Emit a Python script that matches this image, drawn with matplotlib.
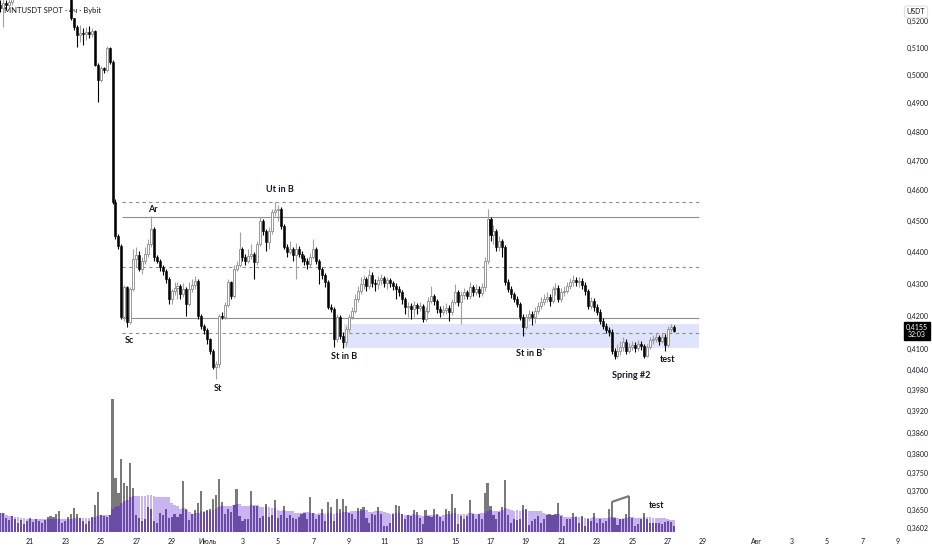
import numpy as np
import pandas as pd
import matplotlib
matplotlib.use("Agg")
import matplotlib.pyplot as plt
import matplotlib.dates as mdates
from matplotlib.ticker import FixedLocator, FixedFormatter, NullLocator
from matplotlib.transforms import blended_transform_factory

plt.rcParams['font.family'] = ['Lato', 'DejaVu Sans']

# ---------------- data ----------------
start_time = "2025-06-19 08:00"   # 4h candles
open0 = 0.5261
closes = [
    0.5250, 0.5269, 0.5261, 0.5273, 0.5299, 0.5350, 0.5380, 0.5410, 0.5450, 0.5430,
    0.5460, 0.5490, 0.5470, 0.5440, 0.5460, 0.5480, 0.5450, 0.5420, 0.5430, 0.5400,
    0.5380, 0.5390, 0.5360, 0.5340, 0.5211, 0.5178, 0.5147, 0.5155, 0.5151, 0.5159,
    0.5151, 0.5162, 0.5037, 0.4983, 0.5026, 0.5019, 0.5100, 0.5048, 0.4560, 0.4449,
    0.4418, 0.4197, 0.4289, 0.4182, 0.4283, 0.4377, 0.4389, 0.4345, 0.4370, 0.4392,
    0.4424, 0.4472, 0.4383, 0.4370, 0.4351, 0.4339, 0.4314, 0.4252, 0.4277, 0.4286,
    0.4292, 0.4268, 0.4283, 0.4237, 0.4283, 0.4295, 0.4308, 0.4200, 0.4170, 0.4158,
    0.4131, 0.4095, 0.4049, 0.4057, 0.4200, 0.4197, 0.4234, 0.4305, 0.4262, 0.4345,
    0.4358, 0.4408, 0.4383, 0.4370, 0.4386, 0.4392, 0.4367, 0.4424, 0.4498, 0.4466,
    0.4431, 0.4466, 0.4527, 0.4534, 0.4537, 0.4482, 0.4415, 0.4399, 0.4408, 0.4389,
    0.4408, 0.4392, 0.4380, 0.4370, 0.4361, 0.4383, 0.4408, 0.4370, 0.4345, 0.4326,
    0.4305, 0.4228, 0.4222, 0.4131, 0.4197, 0.4140, 0.4122, 0.4161, 0.4197, 0.4216,
    0.4252, 0.4277, 0.4298, 0.4314, 0.4292, 0.4326, 0.4302, 0.4298, 0.4311, 0.4317,
    0.4302, 0.4311, 0.4302, 0.4292, 0.4283, 0.4274, 0.4252, 0.4228, 0.4231, 0.4222,
    0.4234, 0.4225, 0.4231, 0.4191, 0.4216, 0.4246, 0.4262, 0.4246, 0.4222, 0.4213,
    0.4219, 0.4225, 0.4213, 0.4243, 0.4274, 0.4243, 0.4265, 0.4274, 0.4262, 0.4289,
    0.4274, 0.4283, 0.4271, 0.4289, 0.4370, 0.4505, 0.4453, 0.4466, 0.4415, 0.4434,
    0.4415, 0.4305, 0.4283, 0.4268, 0.4252, 0.4237, 0.4197, 0.4167, 0.4197, 0.4206,
    0.4197, 0.4216, 0.4231, 0.4243, 0.4252, 0.4258, 0.4246, 0.4283, 0.4286, 0.4252,
    0.4274, 0.4277, 0.4292, 0.4305, 0.4311, 0.4305, 0.4308, 0.4295, 0.4277, 0.4231,
    0.4246, 0.4228, 0.4213, 0.4185, 0.4170, 0.4158, 0.4152, 0.4095, 0.4081, 0.4095,
    0.4107, 0.4122, 0.4095, 0.4107, 0.4113, 0.4104, 0.4116, 0.4110, 0.4081, 0.4107,
    0.4128, 0.4131, 0.4137, 0.4125, 0.4137, 0.4113, 0.4161, 0.4167, 0.4155,
]
highs = [
    0.5280, 0.5288, 0.5280, 0.5291, 0.5318, 0.5370, 0.5395, 0.5425, 0.5470, 0.5465,
    0.5478, 0.5510, 0.5500, 0.5475, 0.5478, 0.5495, 0.5490, 0.5462, 0.5445, 0.5440,
    0.5405, 0.5400, 0.5398, 0.5370, 0.5345, 0.5211, 0.5185, 0.5185, 0.5174, 0.5178,
    0.5181, 0.5174, 0.5166, 0.5044, 0.5033, 0.5030, 0.5107, 0.5103, 0.5055, 0.4570,
    0.4456, 0.4424, 0.4295, 0.4292, 0.4289, 0.4408, 0.4415, 0.4402, 0.4383, 0.4415,
    0.4440, 0.4514, 0.4479, 0.4389, 0.4377, 0.4358, 0.4345, 0.4320, 0.4283, 0.4305,
    0.4305, 0.4298, 0.4302, 0.4289, 0.4305, 0.4314, 0.4323, 0.4314, 0.4206, 0.4176,
    0.4164, 0.4134, 0.4101, 0.4066, 0.4206, 0.4213, 0.4243, 0.4314, 0.4308, 0.4358,
    0.4370, 0.4463, 0.4415, 0.4392, 0.4408, 0.4424, 0.4399, 0.4434, 0.4511, 0.4505,
    0.4472, 0.4479, 0.4537, 0.4563, 0.4550, 0.4544, 0.4489, 0.4424, 0.4434, 0.4415,
    0.4427, 0.4418, 0.4402, 0.4389, 0.4380, 0.4395, 0.4440, 0.4415, 0.4377, 0.4351,
    0.4333, 0.4311, 0.4237, 0.4228, 0.4206, 0.4203, 0.4152, 0.4170, 0.4206, 0.4228,
    0.4268, 0.4292, 0.4320, 0.4326, 0.4320, 0.4345, 0.4336, 0.4314, 0.4323, 0.4329,
    0.4323, 0.4320, 0.4317, 0.4308, 0.4302, 0.4292, 0.4280, 0.4258, 0.4243, 0.4240,
    0.4246, 0.4240, 0.4243, 0.4237, 0.4228, 0.4258, 0.4292, 0.4268, 0.4252, 0.4231,
    0.4234, 0.4240, 0.4234, 0.4252, 0.4298, 0.4280, 0.4277, 0.4286, 0.4280, 0.4305,
    0.4295, 0.4298, 0.4292, 0.4302, 0.4383, 0.4537, 0.4511, 0.4485, 0.4472, 0.4449,
    0.4440, 0.4421, 0.4314, 0.4292, 0.4274, 0.4262, 0.4243, 0.4206, 0.4206, 0.4219,
    0.4216, 0.4228, 0.4243, 0.4258, 0.4268, 0.4274, 0.4268, 0.4292, 0.4302, 0.4295,
    0.4286, 0.4292, 0.4305, 0.4317, 0.4326, 0.4320, 0.4320, 0.4317, 0.4305, 0.4283,
    0.4258, 0.4255, 0.4237, 0.4222, 0.4194, 0.4179, 0.4167, 0.4161, 0.4104, 0.4116,
    0.4125, 0.4137, 0.4131, 0.4119, 0.4125, 0.4122, 0.4128, 0.4125, 0.4116, 0.4116,
    0.4137, 0.4143, 0.4149, 0.4143, 0.4149, 0.4146, 0.4170, 0.4176, 0.4173,
]
lows = [
    0.5235, 0.5178, 0.5242, 0.5250, 0.5261, 0.5290, 0.5330, 0.5360, 0.5390, 0.5410,
    0.5415, 0.5445, 0.5450, 0.5420, 0.5425, 0.5440, 0.5430, 0.5400, 0.5405, 0.5385,
    0.5362, 0.5365, 0.5342, 0.5322, 0.5204, 0.5166, 0.5103, 0.5122, 0.5111, 0.5129,
    0.5136, 0.5140, 0.5033, 0.4904, 0.4976, 0.5008, 0.5012, 0.5041, 0.4554, 0.4440,
    0.4408, 0.4191, 0.4185, 0.4167, 0.4176, 0.4277, 0.4351, 0.4339, 0.4329, 0.4361,
    0.4383, 0.4415, 0.4370, 0.4364, 0.4339, 0.4326, 0.4302, 0.4237, 0.4237, 0.4265,
    0.4252, 0.4252, 0.4258, 0.4200, 0.4231, 0.4274, 0.4283, 0.4191, 0.4161, 0.4146,
    0.4116, 0.4087, 0.4043, 0.4014, 0.4046, 0.4191, 0.4191, 0.4228, 0.4252, 0.4255,
    0.4339, 0.4351, 0.4370, 0.4358, 0.4364, 0.4377, 0.4314, 0.4358, 0.4418, 0.4453,
    0.4402, 0.4408, 0.4456, 0.4514, 0.4498, 0.4472, 0.4408, 0.4383, 0.4392, 0.4370,
    0.4314, 0.4383, 0.4367, 0.4358, 0.4345, 0.4351, 0.4377, 0.4361, 0.4298, 0.4314,
    0.4289, 0.4222, 0.4213, 0.4107, 0.4122, 0.4131, 0.4104, 0.4110, 0.4152, 0.4191,
    0.4209, 0.4243, 0.4268, 0.4283, 0.4277, 0.4283, 0.4289, 0.4277, 0.4283, 0.4295,
    0.4289, 0.4283, 0.4289, 0.4280, 0.4252, 0.4262, 0.4237, 0.4206, 0.4197, 0.4191,
    0.4197, 0.4206, 0.4216, 0.4182, 0.4185, 0.4209, 0.4240, 0.4234, 0.4209, 0.4197,
    0.4203, 0.4206, 0.4185, 0.4203, 0.4237, 0.4231, 0.4176, 0.4252, 0.4252, 0.4252,
    0.4262, 0.4265, 0.4258, 0.4262, 0.4277, 0.4361, 0.4434, 0.4424, 0.4402, 0.4402,
    0.4383, 0.4295, 0.4274, 0.4255, 0.4243, 0.4228, 0.4188, 0.4140, 0.4161, 0.4185,
    0.4173, 0.4179, 0.4206, 0.4222, 0.4234, 0.4243, 0.4231, 0.4240, 0.4265, 0.4243,
    0.4243, 0.4262, 0.4271, 0.4283, 0.4292, 0.4292, 0.4289, 0.4283, 0.4265, 0.4222,
    0.4222, 0.4216, 0.4203, 0.4176, 0.4161, 0.4149, 0.4140, 0.4087, 0.4072, 0.4075,
    0.4084, 0.4095, 0.4087, 0.4090, 0.4098, 0.4093, 0.4095, 0.4098, 0.4075, 0.4078,
    0.4101, 0.4116, 0.4122, 0.4113, 0.4119, 0.4095, 0.4107, 0.4152, 0.4152,
]
volumes = [
    19, 19, 14, 12, 16, 13, 9, 12, 8, 11,
    14, 10, 13, 11, 9, 12, 15, 16, 15, 18,
    21, 9, 11, 15, 18, 24, 18, 14, 11, 8,
    11, 15, 27, 40, 17, 16, 15, 17, 133, 54,
    39, 73, 49, 46, 69, 44, 17, 14, 11, 13,
    25, 23, 11, 9, 19, 17, 23, 14, 15, 18,
    15, 18, 51, 23, 12, 18, 22, 29, 41, 20,
    22, 23, 33, 37, 53, 30, 18, 23, 20, 27,
    43, 16, 11, 13, 13, 41, 26, 26, 14, 16,
    28, 15, 17, 32, 14, 17, 26, 14, 17, 14,
    13, 15, 18, 19, 13, 35, 19, 13, 17, 23,
    11, 30, 25, 11, 33, 23, 33, 26, 19, 18,
    13, 24, 23, 25, 14, 9, 18, 17, 25, 18,
    6, 6, 9, 18, 27, 26, 18, 13, 17, 16,
    22, 20, 14, 8, 22, 16, 15, 23, 18, 15,
    11, 23, 21, 38, 24, 8, 16, 13, 16, 32,
    18, 13, 18, 13, 39, 49, 26, 17, 13, 20,
    25, 52, 17, 9, 13, 12, 13, 27, 23, 7,
    11, 13, 16, 9, 13, 17, 18, 17, 18, 29,
    16, 6, 13, 13, 19, 15, 9, 16, 6, 13,
    11, 19, 9, 13, 9, 11, 23, 30, 14, 7,
    13, 13, 18, 36, 14, 6, 8, 13, 19, 13,
    9, 9, 9, 9, 8, 10, 11, 10, 6,
]
vol_ma_period = 20

price_ticks = [0.52, 0.51, 0.50, 0.49, 0.48, 0.47, 0.46, 0.45, 0.44, 0.43, 0.42,
               0.41, 0.404, 0.398, 0.392, 0.386, 0.38, 0.375, 0.37, 0.365, 0.3602]
date_ticks = ["2025-06-21", "2025-06-23", "2025-06-25", "2025-06-27", "2025-06-29",
              "2025-07-01", "2025-07-03", "2025-07-05", "2025-07-07", "2025-07-09",
              "2025-07-11", "2025-07-13", "2025-07-15", "2025-07-17", "2025-07-19",
              "2025-07-21", "2025-07-23", "2025-07-25", "2025-07-27", "2025-07-29",
              "2025-08-01", "2025-08-03", "2025-08-05", "2025-08-07", "2025-08-09"]
date_labels = ["21", "23", "25", "27", "29", "Июль", "3", "5", "7", "9", "11", "13",
               "15", "17", "19", "21", "23", "25", "27", "29", "Авг", "3", "5", "7", "9"]

solid_levels = [0.4513, 0.4195]
dashed_levels = [0.4562, 0.4352, 0.4149]
levels_start, levels_end = "2025-06-26 05:00", "2025-07-28 19:00"
zone_low, zone_high = 0.4105, 0.4177
zone_start = "2025-07-08 17:00"

last_price = 0.4155
countdown = "32:03"

labels = [("Ar", "2025-06-27 23:00", 0.4537),
          ("Ut in B", "2025-07-05 02:30", 0.4603),
          ("Sc", "2025-06-26 15:00", 0.4125),
          ("St", "2025-07-01 15:00", 0.3985),
          ("St in B", "2025-07-08 18:00", 0.4078),
          ("St in B`", "2025-07-19 06:15", 0.4087),
          ("Spring #2", "2025-07-24 22:20", 0.4022),
          ("test", "2025-07-27 00:15", 0.4069)]
vol_label = ("test", "2025-07-26 09:20", 27)
vol_link = (207, 213)

# ---------------- figure ----------------
W, H = 932, 550
fig = plt.figure(figsize=(W / 100, H / 100), dpi=100, facecolor="white")
rect = [0, 18 / H, 898 / W, 532 / H]
axv = fig.add_axes(rect)
ax = fig.add_axes(rect, sharex=axv)
ax.set_zorder(2)
ax.patch.set_alpha(0)

times = pd.date_range(start_time, periods=len(closes), freq="4h")
x = mdates.date2num(times)
c = np.array(closes)
o = np.array([open0] + closes[:-1])
h = np.array(highs)
l = np.array(lows)
up = c >= o
step = 1 / 6
bw = 0.68 * step
vw = 0.72 * step

# volume pane
vol = np.array(volumes, dtype=float)
vol_ma = pd.Series(vol).rolling(vol_ma_period, min_periods=1).mean().values
axv.bar(x, vol, width=vw, color="#7a7a7a", linewidth=0)
axv.bar(x, vol_ma, width=0.92 * step, color="#c8b4ef", linewidth=0)
axv.bar(x, np.minimum(vol, vol_ma), width=vw, color="#6b4ca5", linewidth=0)
i0, i1 = vol_link
axv.plot([x[i0], x[i1]], [vol[i0], vol[i1]], color="#7a7a7a", lw=1.6, solid_capstyle="butt")
axv.text(mdates.date2num(pd.Timestamp(vol_label[1])), vol_label[2], vol_label[0],
         ha="center", va="center", fontsize=6.5, fontweight="bold", color="#131722")
axv.set_ylim(0, 532)
axv.axis("off")

# price pane
ax.set_yscale("log")
t_ls = mdates.date2num(pd.Timestamp(levels_start))
t_le = mdates.date2num(pd.Timestamp(levels_end))
t_zs = mdates.date2num(pd.Timestamp(zone_start))
ax.fill_between([t_zs, t_le], zone_low, zone_high, color="#dfe3fb", lw=0, zorder=1)
for lv in solid_levels:
    ax.hlines(lv, t_ls, t_le, colors="#8e8e8e", lw=0.8, zorder=1.5)
for lv in dashed_levels:
    ax.hlines(lv, t_ls, t_le, colors="#8e8e8e", lw=0.8, linestyles=(0, (3, 3)), zorder=1.5)

ax.vlines(x[up], l[up], h[up], colors="#a0a0a0", lw=0.8, zorder=2)
ax.vlines(x[~up], l[~up], h[~up], colors="#000000", lw=0.8, zorder=2)
ax.bar(x[up], c[up] - o[up], bottom=o[up], width=bw, facecolor="white",
       edgecolor="#8a8a8a", linewidth=0.6, zorder=3)
ax.bar(x[~up], o[~up] - c[~up], bottom=c[~up], width=bw, facecolor="black",
       edgecolor="black", linewidth=0.4, zorder=3)

for txt, t, p in labels:
    ax.text(mdates.date2num(pd.Timestamp(t)), p, txt, ha="center", va="center",
            fontsize=6.5, fontweight="bold", color="#131722", zorder=4)

ax.text(4 / 898, 1 - 10 / 532, "MNTUSDT SPOT · 4ч · Bybit", transform=ax.transAxes,
        fontsize=5.5, color="#131722", ha="left", va="center", zorder=1)

ax.set_ylim(0.3592, 0.5280)
ax.yaxis.tick_right()
ax.yaxis.set_major_locator(FixedLocator(price_ticks))
ax.yaxis.set_major_formatter(FixedFormatter([f"{v:.4f}".replace(".", ",") for v in price_ticks]))
ax.yaxis.set_minor_locator(NullLocator())
ax.tick_params(axis="y", length=0, pad=6, labelsize=5, labelcolor="#131722")

base = mdates.date2num(pd.Timestamp("2025-06-21"))
ax.set_xlim(base - 1.685, base + 48.76)
ax.set_xticks(mdates.date2num(pd.to_datetime(date_ticks)))
ax.set_xticklabels(date_labels)
ax.tick_params(axis="x", length=0, pad=4, labelsize=5, labelcolor="#131722")
for s in ax.spines.values():
    s.set_visible(False)

# last price tag
tr = blended_transform_factory(ax.transAxes, ax.transData)
ax.text(917 / 898, last_price, f"{last_price:.4f}".replace(".", ",") + "\n" + countdown,
        transform=tr, ha="center", va="center", fontsize=5, color="white",
        linespacing=1.1, clip_on=False, zorder=6,
        bbox=dict(boxstyle="square,pad=0.25", facecolor="black", edgecolor="black"))

fig.text(916 / W, 1 - 12 / H, "USDT", ha="center", va="center", fontsize=5, color="#131722",
         bbox=dict(boxstyle="round,pad=0.35", facecolor="white", edgecolor="#d5d5d5", lw=0.6))

fig.savefig("out.png", dpi=100, facecolor="white")
